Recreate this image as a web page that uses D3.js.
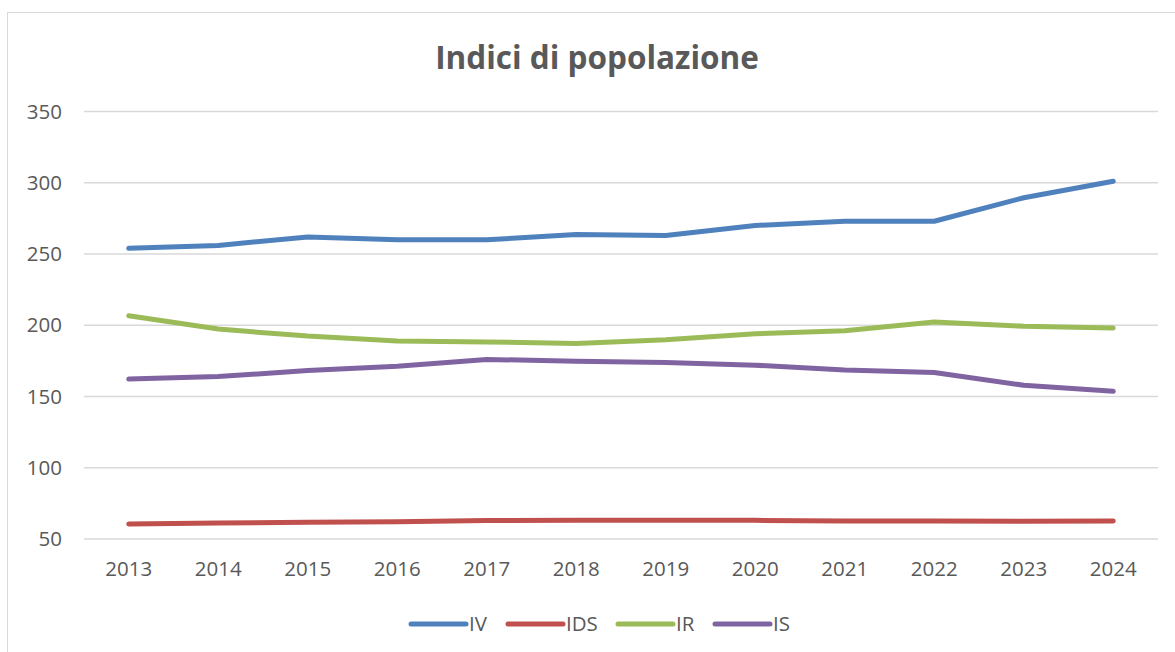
<!DOCTYPE html>
<html>
<head>
<meta charset="utf-8">
<script src="https://cdn.jsdelivr.net/npm/d3@7"></script>
<style>
  html, body { margin: 0; padding: 0; background: #fff; }
  svg { display: block; }
  text { font-family: "Open Sans", "Noto Sans", sans-serif; fill: #595959; }
</style>
</head>
<body>
<svg id="chart" width="1175" height="652"></svg>
<script>
const years = ["2013","2014","2015","2016","2017","2018","2019","2020","2021","2022","2023","2024"];
const seriesNames = ["IV","IDS","IR","IS"];
const seriesColors = ["#4f81bd","#c0504d","#9bbb59","#8064a2"];
const IV  = [254, 256, 262, 260, 260, 263.6, 263, 270, 273, 273, 289.5, 301];
const IDS = [60.6, 61.3, 61.7, 62.1, 62.9, 63.1, 63.1, 63.1, 62.6, 62.6, 62.4, 62.7];
const IR  = [206.6, 197.3, 192.4, 189, 188.3, 187.2, 189.8, 194, 196.2, 202.3, 199.3, 198.1];
const IS  = [162.2, 164, 168.2, 171.2, 176, 174.8, 173.8, 172, 168.6, 166.8, 157.9, 153.7];
const yTicks = [50, 100, 150, 200, 250, 300, 350];
const title = "Indici di popolazione";

const seriesValues = [IV, IDS, IR, IS];

const svg = d3.select("#chart");

// chart border
svg.append("rect")
  .attr("x", 7.5).attr("y", 12.5)
  .attr("width", 1200).attr("height", 700)
  .attr("fill", "none").attr("stroke", "#d9d9d9").attr("stroke-width", 1);

const plotLeft = 84, plotRight = 1158, plotTop = 111.5, plotBottom = 539;

const x = d3.scaleBand().domain(years).range([plotLeft, plotRight]).padding(0);
const y = d3.scaleLinear().domain([50, 350]).range([plotBottom, plotTop]);

// gridlines
svg.append("g")
  .selectAll("line")
  .data(yTicks)
  .join("line")
  .attr("x1", plotLeft).attr("x2", plotRight)
  .attr("y1", d => y(d))
  .attr("y2", d => y(d))
  .attr("stroke", "#d9d9d9")
  .attr("stroke-width", 1.5);

// y axis
const yAxis = svg.append("g")
  .attr("transform", `translate(${plotLeft - 22},0)`)
  .call(d3.axisLeft(y).tickValues(yTicks).tickSize(0).tickPadding(0));
yAxis.select(".domain").remove();
yAxis.selectAll("text")
  .style("font-size", "20.5px")
  .style("font-family", '"Open Sans", sans-serif')
  .attr("fill", "#595959");

// x axis
const xAxis = svg.append("g")
  .attr("transform", `translate(0,${plotBottom + 22})`)
  .call(d3.axisBottom(x).tickSize(0).tickPadding(0));
xAxis.select(".domain").remove();
xAxis.selectAll("text")
  .style("font-size", "20.5px")
  .style("font-family", '"Open Sans", sans-serif')
  .attr("fill", "#595959")
  .attr("dy", "0.75em");

// lines
const line = d3.line()
  .x((d, i) => x(years[i]) + x.bandwidth() / 2)
  .y(d => y(d));

svg.append("g")
  .selectAll("path")
  .data(seriesValues)
  .join("path")
  .attr("d", d => line(d))
  .attr("fill", "none")
  .attr("stroke", (d, i) => seriesColors[i])
  .attr("stroke-width", 5)
  .attr("stroke-linecap", "round")
  .attr("stroke-linejoin", "round");

// title
svg.append("text")
  .attr("x", 597).attr("y", 69)
  .attr("text-anchor", "middle")
  .style("font-size", "31.5px")
  .style("font-weight", "bold")
  .text(title);

// legend
const legendX = [411, 508, 618, 715];
const legend = svg.append("g");
seriesNames.forEach((name, i) => {
  const g = legend.append("g").attr("transform", `translate(${legendX[i]},624)`);
  g.append("line")
    .attr("x1", 0).attr("x2", 55).attr("y1", 0).attr("y2", 0)
    .attr("stroke", seriesColors[i]).attr("stroke-width", 5)
    .attr("stroke-linecap", "round");
  g.append("text")
    .attr("x", 58).attr("y", 0).attr("dy", "0.35em")
    .style("font-size", "20.5px")
    .text(name);
});
</script>
</body>
</html>
